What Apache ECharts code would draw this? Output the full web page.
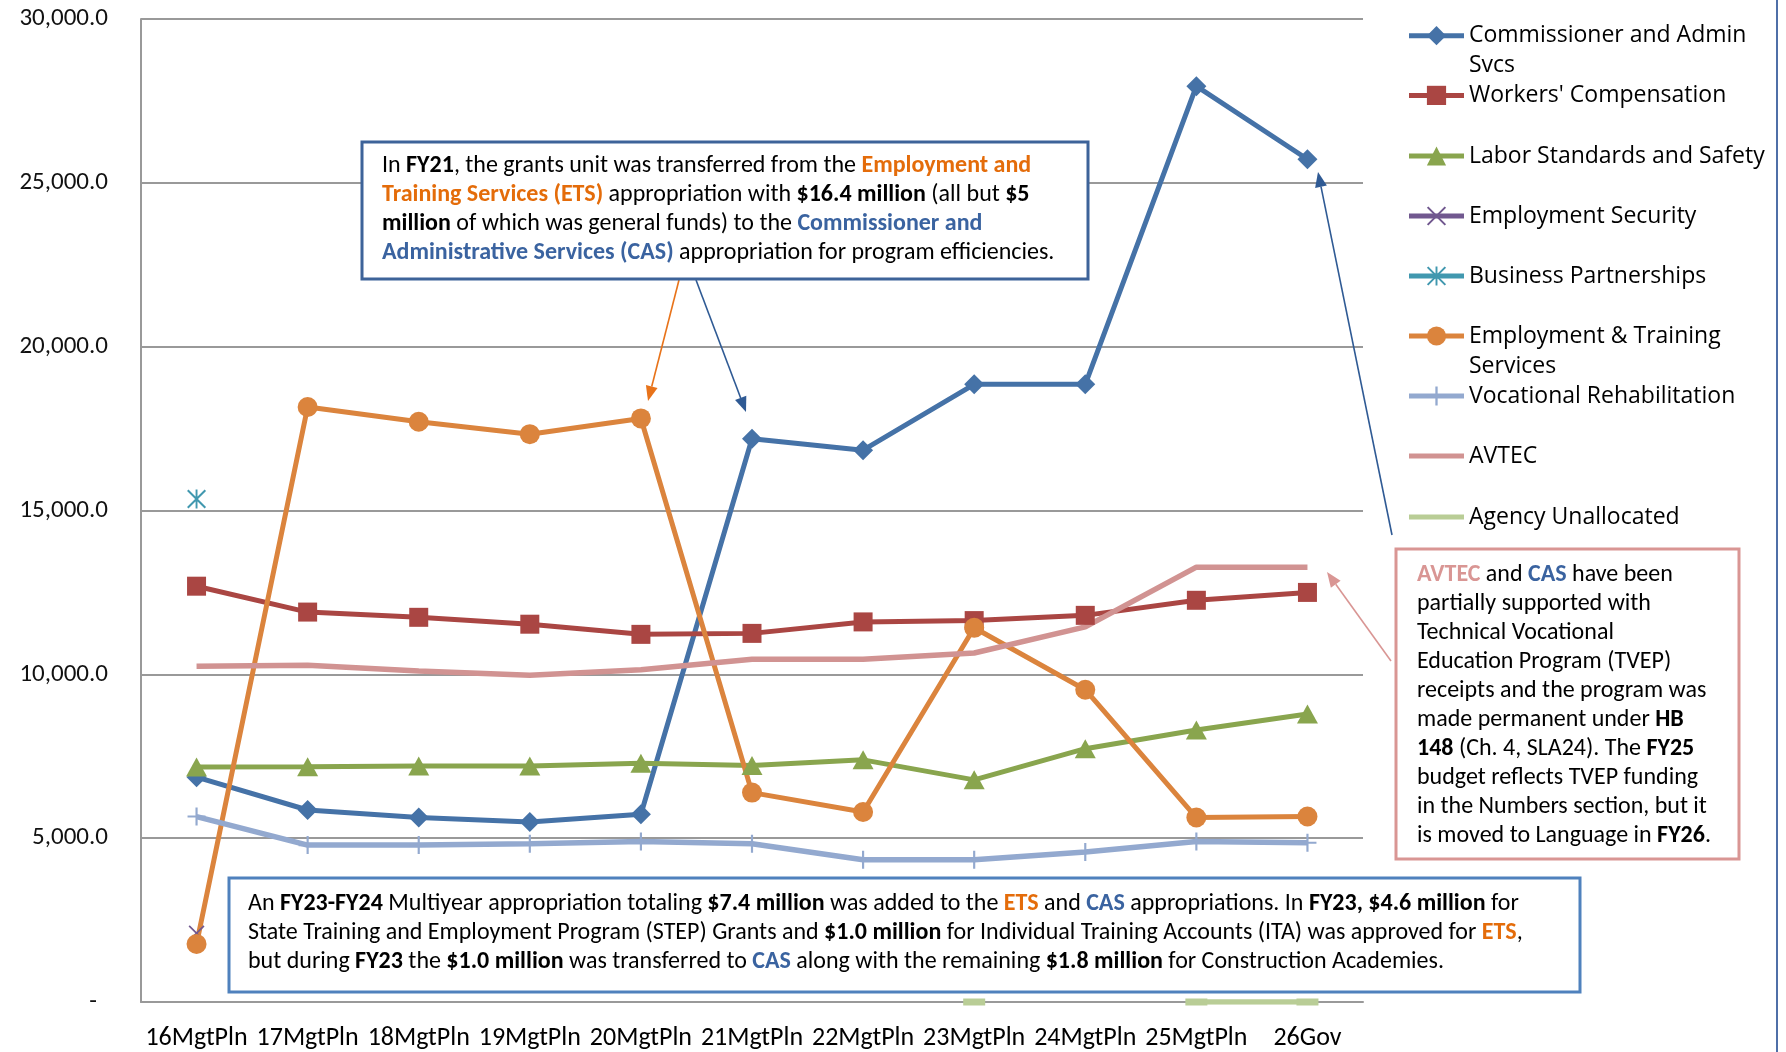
<!DOCTYPE html>
<html><head><meta charset="utf-8">
<script src="https://cdn.jsdelivr.net/npm/echarts@6/dist/echarts.min.js"></script>
<style>html,body{margin:0;padding:0;background:#fff}#c{width:1786px;height:1052px}</style>
</head><body><div id="c"></div>
<script>
// ---- data (thousands of dollars) ----
const categories = ['16MgtPln','17MgtPln','18MgtPln','19MgtPln','20MgtPln','21MgtPln','22MgtPln','23MgtPln','24MgtPln','25MgtPln','26Gov'];
const yTicks = [0, 5000, 10000, 15000, 20000, 25000, 30000];
const commissionerAdmin   = [6860, 5860, 5630, 5490, 5730, 17190, 16840, 18850, 18850, 27950, 25720];
const workersComp         = [12690, 11900, 11740, 11530, 11220, 11250, 11600, 11640, 11800, 12260, 12500];
const laborStandards      = [7170, 7180, 7200, 7200, 7290, 7220, 7390, 6780, 7730, 8300, 8790];
const employmentSecurity  = [2100, null, null, null, null, null, null, null, null, null, null];
const businessPartnerships= [15350, null, null, null, null, null, null, null, null, null, null];
const employmentTraining  = [1770, 18160, 17710, 17330, 17810, 6390, 5800, 11420, 9530, 5630, 5660];
const vocationalRehab     = [5660, 4790, 4790, 4830, 4900, 4830, 4340, 4340, 4580, 4900, 4860];
const avtec               = [10250, 10280, 10100, 9970, 10140, 10460, 10460, 10650, 11450, 13270, 13270];
const agencyUnallocated   = [null, null, null, null, null, null, null, 0, null, 0, 0];

const seriesNames = ['Commissioner and Admin Svcs', "Workers' Compensation", 'Labor Standards and Safety',
  'Employment Security', 'Business Partnerships', 'Employment & Training Services',
  'Vocational Rehabilitation', 'AVTEC', 'Agency Unallocated'];
const seriesData = [commissionerAdmin, workersComp, laborStandards, employmentSecurity, businessPartnerships,
  employmentTraining, vocationalRehab, avtec, agencyUnallocated];
const legendLine1 = ['Commissioner and Admin', "Workers' Compensation", 'Labor Standards and Safety',
  'Employment Security', 'Business Partnerships', 'Employment & Training',
  'Vocational Rehabilitation', 'AVTEC', 'Agency Unallocated'];
const legendLine2 = ['Svcs', '', '', '', '', 'Services', '', '', ''];

// ---- styles ----
const colors = ['#4572A7', '#AA4643', '#89A54E', '#71588F', '#4198AF', '#DB843D', '#93A9CF', '#D19392', '#B9CD96'];
const P_PLUS = 'path://M8.8,0H11.2V20H8.8ZM0,8.8H20V11.2H0Z';
const P_X = 'path://M0,1.5L1.5,0L20,18.5L18.5,20ZM20,1.5L1.5,20L0,18.5L18.5,0Z';
const P_STAR = 'path://M9,0H11V20H9ZM0,1.5L1.5,0L20,18.5L18.5,20ZM20,1.5L1.5,20L0,18.5L18.5,0Z';
const symbols = ['diamond', 'rect', 'triangle', P_X, P_STAR, 'circle', P_PLUS, 'none', 'rect'];
const symbolSizes = [20, 19, [21, 19], 16, 19, 20, 18, 0, [22, 7]];
const lineWidths = [5, 5, 5, 5, 5, 5, 5.5, 5.5, 5.5];
const hideLegendSymbol = [false, false, false, false, false, false, false, true, true];

const series = seriesNames.map((name, i) => ({
  name, type: 'line', data: seriesData[i],
  symbol: symbols[i], symbolSize: symbolSizes[i], showSymbol: symbols[i] !== 'none',
  showAllSymbol: true, connectNulls: false,
  lineStyle: { color: colors[i], width: lineWidths[i] },
  itemStyle: { color: colors[i], borderWidth: 0 },
  emphasis: { disabled: true }, animation: false
}));

const LEG_LEFT = 1406.5, LEG_ITEM_W = 55, LEG_LH = 30, LEG_TEXT_X = 1469;
const legendCenters = [35.7, 95.4, 156, 216, 276, 336, 396, 456, 517];
const legends = seriesNames.map((name, i) => ({
  data: [hideLegendSymbol[i] ? { name, itemStyle: { opacity: 0 } } : name],
  left: LEG_LEFT, top: legendCenters[i] - LEG_LH / 2,
  orient: 'vertical', padding: 0, itemWidth: LEG_ITEM_W, itemHeight: 24, selectedMode: false,
  lineStyle: { width: 5, color: colors[i] },
  formatter: () => legendLine1[i],
  textStyle: { fontFamily: 'Open Sans', fontSize: 23, color: '#000', lineHeight: LEG_LH }
}));

// ---- annotations ----
const ORANGE = '#E46C0A', BLUE = '#3A63A0', PINK = '#D99694';
const rich = {
  b: { fontWeight: 'bold', fill: '#000', fontFamily: 'Carlito', fontSize: 24, lineHeight: 29 },
  o: { fontWeight: 'bold', fill: ORANGE, fontFamily: 'Carlito', fontSize: 24, lineHeight: 29 },
  c: { fontWeight: 'bold', fill: BLUE, fontFamily: 'Carlito', fontSize: 24, lineHeight: 29 },
  p: { fontWeight: 'bold', fill: PINK, fontFamily: 'Carlito', fontSize: 24, lineHeight: 29 }
};
function textEl(x, y, lines) {
  return { type: 'text', z: 101, x, y, style: {
    text: lines.join('\n'), fontFamily: 'Carlito', fontSize: 24, lineHeight: 29, fill: '#000',
    rich, align: 'left', verticalAlign: 'top' } };
}
function boxEl(x, y, w, h, color) {
  return { type: 'rect', z: 100, shape: { x, y, width: w, height: h },
    style: { fill: '#fff', stroke: color, lineWidth: 3 } };
}
function arrowEls(x1, y1, x2, y2, color) {
  const dx = x2 - x1, dy = y2 - y1, L = Math.hypot(dx, dy), ux = dx / L, uy = dy / L;
  const hl = 15, hw = 6, bx = x2 - ux * hl, by = y2 - uy * hl;
  return [
    { type: 'line', z: 99, shape: { x1, y1, x2: bx, y2: by }, style: { stroke: color, lineWidth: 1.6 } },
    { type: 'polygon', z: 99, shape: { points: [[x2, y2], [bx - uy * hw, by + ux * hw], [bx + uy * hw, by - ux * hw]] },
      style: { fill: color } }
  ];
}
const legendSecondLines = legendLine2.map((t, i) => t ? ({
  type: 'text', z: 101, x: LEG_TEXT_X, y: legendCenters[i] + LEG_LH,
  style: { text: t, fontFamily: 'Open Sans', fontSize: 23, fill: '#000', align: 'left', verticalAlign: 'middle' }
}) : null).filter(Boolean);

const graphics = [
  { type: 'line', z: 98, shape: { x1: 1777, y1: 0, x2: 1777, y2: 1052 }, style: { stroke: '#4F6FA8', lineWidth: 2 } },
  ...legendSecondLines,
  ...arrowEls(679, 280, 648, 401, '#E8731A'),
  ...arrowEls(696, 280, 746, 412, '#2F5A94'),
  ...arrowEls(1392, 535, 1318, 172, '#2F5A94'),
  ...arrowEls(1391, 661, 1327, 572, PINK),
  boxEl(362, 142, 726, 137, '#3D6399'),
  textEl(382, 151, [
    'In {b|FY21}, the grants unit was transferred from the {o|Employment and}',
    '{o|Training Services (ETS)} appropriation with {b|$16.4 million} (all but {b|$5}',
    '{b|million} of which was general funds) to the {c|Commissioner and}',
    '{c|Administrative Services (CAS)} appropriation for program efficiencies.'
  ]),
  boxEl(1396, 549, 343, 310, PINK),
  textEl(1417, 560, [
    '{p|AVTEC} and {c|CAS} have been',
    'partially supported with',
    'Technical Vocational',
    'Education Program (TVEP)',
    'receipts and the program was',
    'made permanent under {b|HB}',
    '{b|148} (Ch. 4, SLA24). The {b|FY25}',
    'budget reflects TVEP funding',
    'in the Numbers section, but it',
    'is moved to Language in {b|FY26}.'
  ]),
  boxEl(229, 878, 1351, 114, '#4F81BD'),
  textEl(248, 889, [
    'An {b|FY23-FY24} Multiyear appropriation totaling {b|$7.4 million} was added to the {o|ETS} and {c|CAS} appropriations. In {b|FY23, $4.6 million} for',
    'State Training and Employment Program (STEP) Grants and {b|$1.0 million} for Individual Training Accounts (ITA) was approved for {o|ETS},',
    'but during {b|FY23} the {b|$1.0 million} was transferred to {c|CAS} along with the remaining {b|$1.8 million} for Construction Academies.'
  ])
];

const chart = echarts.init(document.getElementById('c'), null, { renderer: 'canvas' });
chart.setOption({
  animation: false,
  backgroundColor: '#fff',
  grid: { left: 141, right: 423, top: 19, bottom: 50, containLabel: false, outerBoundsMode: 'none' },
  legend: legends,
  xAxis: {
    type: 'category', data: categories, boundaryGap: true,
    axisLine: { lineStyle: { color: '#999', width: 2 } }, axisTick: { show: false },
    axisLabel: { interval: 0, margin: 23, fontFamily: 'Carlito', fontSize: 26, color: '#000' },
    splitLine: { show: false }
  },
  yAxis: {
    type: 'value', min: yTicks[0], max: yTicks[yTicks.length - 1], interval: yTicks[1] - yTicks[0],
    axisLine: { show: true, lineStyle: { color: '#999', width: 2 } }, axisTick: { show: false },
    splitLine: { lineStyle: { color: '#999', width: 2 } },
    axisLabel: {
      margin: 33, fontFamily: 'Carlito', fontSize: 25, color: '#111',
      formatter: v => v === 0 ? '{d|-}' : v.toLocaleString('en-US', { minimumFractionDigits: 1, maximumFractionDigits: 1 }),
      rich: { d: { fontFamily: 'Carlito', fontSize: 25, color: '#111', padding: [0, 11, 0, 0] } }
    }
  },
  series,
  graphic: graphics
});
</script></body></html>
